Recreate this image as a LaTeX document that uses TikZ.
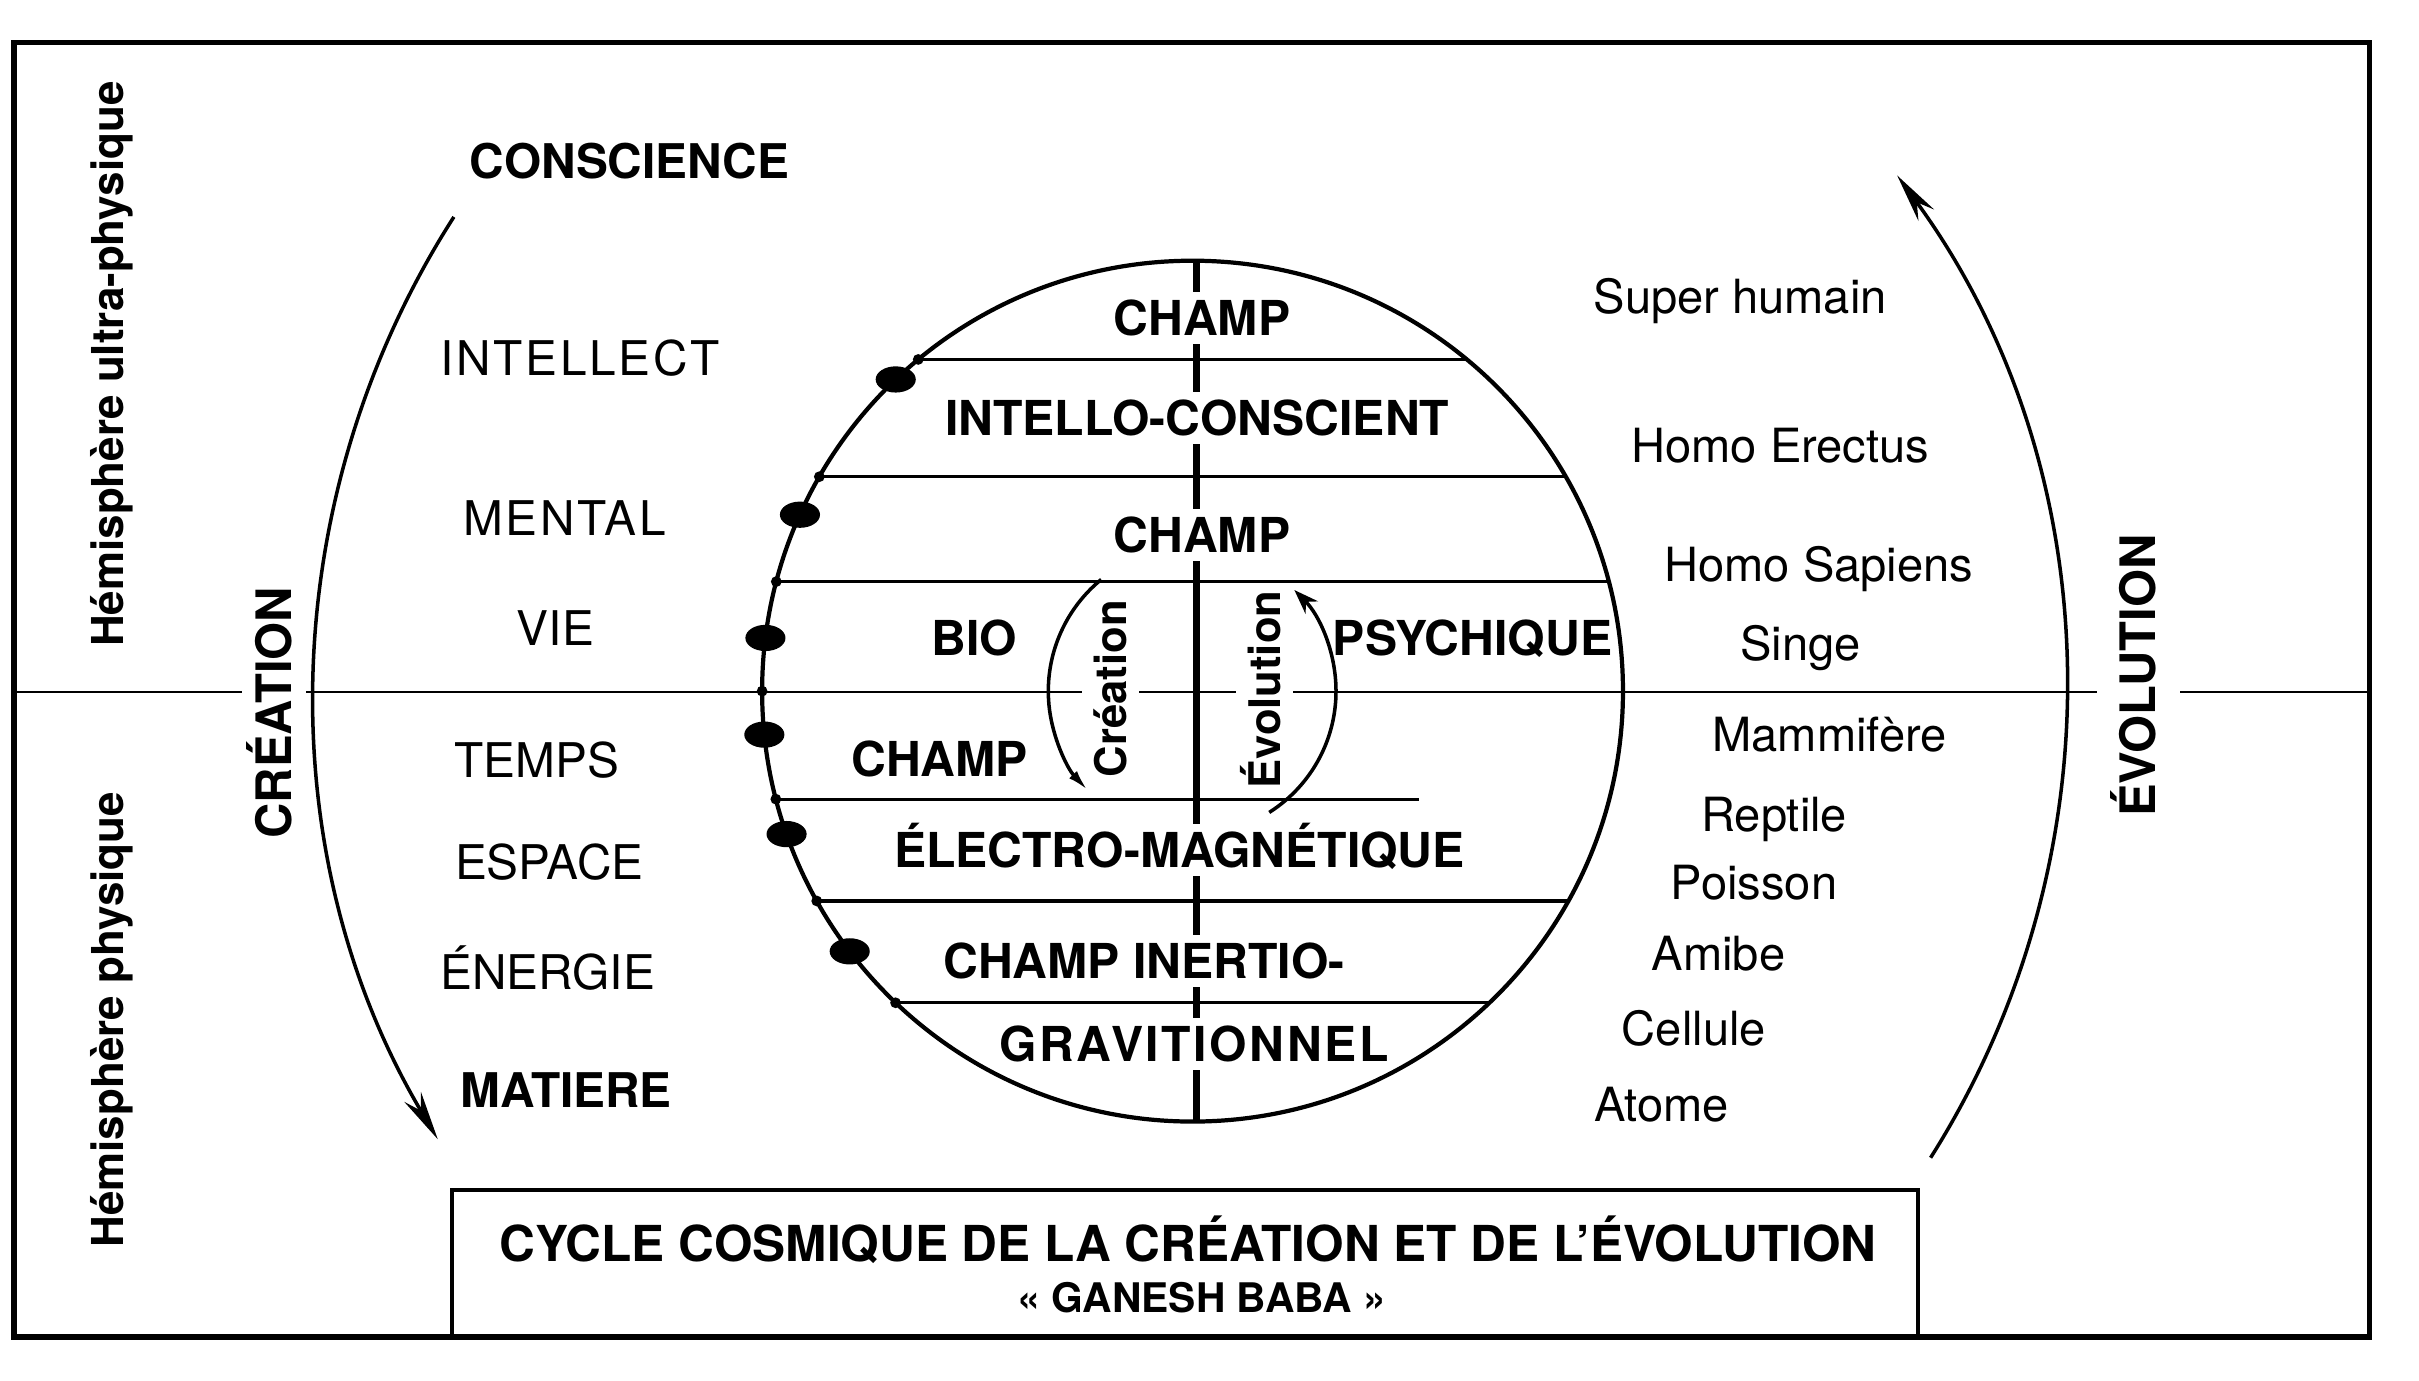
\documentclass[tikz,border=0pt]{standalone}
\usepackage{fontspec}
\setmainfont{TeX Gyre Heros}
\newfontfamily\spacedfont{TeX Gyre Heros}[LetterSpace=5.5]
\usetikzlibrary{calc, arrows.meta}

\newcommand{\bandfont}{\fontsize{13.7pt}{15pt}\selectfont\bfseries}
\newcommand{\listfont}{\fontsize{13.6pt}{15pt}\selectfont}
\newcommand{\beingfont}{\fontsize{13.4pt}{15pt}\selectfont}
\newcommand{\hemifont}{\fontsize{12.5pt}{14pt}\selectfont\bfseries}
\newcommand{\sensfont}{\fontsize{13.9pt}{15pt}\selectfont\bfseries}
\newcommand{\subsensfont}{\fontsize{12.4pt}{14pt}\selectfont\bfseries}

\begin{document}
\begin{tikzpicture}[x=0.015427cm, y=-0.015427cm,
    band/.style={font=\bandfont, fill=white, inner xsep=2pt, inner ysep=2.5pt, text height=9.8pt, text depth=0pt},
    level/.style={font=\listfont, inner sep=0pt, text height=9.8pt, text depth=0pt},
    levelbold/.style={level, font=\listfont\bfseries},
    being/.style={font=\beingfont, inner sep=0pt, text height=9.6pt, text depth=0pt},
    hemi/.style={rotate=90, font=\hemifont, inner sep=0pt, text height=9pt, text depth=0pt},
    sens/.style={rotate=90, font=\sensfont, fill=white, inner xsep=1pt, text height=10pt, text depth=0pt},
    subsens/.style={rotate=90, font=\subsensfont, fill=white, inner xsep=1pt, inner ysep=3.6pt, text height=8.9pt, text depth=0pt},
    titletext/.style={font=\fontsize{14.1pt}{15pt}\selectfont\bfseries, inner sep=0pt, text height=10.1pt, text depth=0pt},
    subtitle/.style={font=\fontsize{11.6pt}{13pt}\selectfont\bfseries, inner sep=0pt, text height=8.3pt, text depth=0pt},
    frame/.style={line width=1.6pt},
    chord/.style={line width=0.9pt},
    axis/.style={line width=2pt},
    ring/.style={line width=1.2pt},
    bigarrow/.style={line width=1pt, -{Stealth[length=14pt, width=5.5pt]}},
    crearrow/.style={line width=1pt, -{Latex[length=6pt, width=3pt]}},
    evoarrow/.style={line width=1pt, -{Stealth[length=7pt, width=5pt]}}]
  \useasboundingbox (0,0) rectangle (1568,895);
  \coordinate (c) at (773,448);

  % cadre et titre
  \draw[frame] (9,27.5) rectangle (1536,866.5);
  \draw[line width=1.1pt] (293,771.5) rectangle (1243,866.5);

  % lignes
  \draw[line width=0.8pt] (9,448.5) -- (1536,448.5);
  \foreach \yy/\hw in {233/177.8, 309/241.9, 377/269.8, 584/243.6, 650/192.5}
    \draw[chord] (773-\hw,\yy) -- (773+\hw,\yy);
  \draw[chord] (502.9,518) -- (920,518);
  \draw[axis] (775.5,168) -- (775.5,726);

  % gauche
  \node[levelbold] (conscience) at (408,104.5) {CONSCIENCE};
  \node[level] (intellect) at (376,232) {\spacedfont INTELLECT};
  \node[level] (mental) at (366,336) {\spacedfont MENTAL};
  \node[level] (vie) at (360,407) {VIE};
  \node[level] (temps) at (348,493) {TEMPS};
  \node[level] (espace) at (356,559) {ESPACE};
  \node[level] (energie) at (355,630) {ÉNERGIE};
  \node[levelbold] (matiere) at (367,707) {MATIERE};

  % droite
  \node[being] (surhumain) at (1128,192) {Super humain};
  \node[being] (erectus) at (1154,289) {Homo Erectus};
  \node[being] (sapiens) at (1179,366) {Homo Sapiens};
  \node[being] (singe) at (1167,417) {Singe};
  \node[being] (mammifere) at (1186,476) {Mammifère};
  \node[being] (reptile) at (1150,528) {Reptile};
  \node[being] (poisson) at (1137,572) {Poisson};
  \node[being] (amibe) at (1114,618) {Amibe};
  \node[being] (cellule) at (1098,667) {Cellule};
  \node[being] (atome) at (1077,716) {Atome};

  % champs
  \node[band] (champA) at (779,206) {CHAMP};
  \node[band] (intello) at (776,271) {INTELLO-CONSCIENT};
  \node[band] (champB) at (779,347) {CHAMP};
  \node[band] (bio) at (631.5,414) {BIO};
  \node[band] (psychique) at (954.5,414) {PSYCHIQUE};
  \node[band] (champC) at (609,492) {CHAMP};
  \node[band] (electro) at (764.5,551) {ÉLECTRO-MAGNÉTIQUE};
  \node[band] (inertio) at (741.5,623) {CHAMP INERTIO-};
  \node[band] (gravit) at (774,677) {\spacedfont\bfseries GRAVITIONNEL};

  % textes verticaux
  \node[hemi] (ultra) at (70,236) {Hémisphère ultra-physique};
  \node[hemi] (physique) at (70,661) {Hémisphère physique};
  \node[sens, inner ysep=4.2pt] (creation) at (177.5,462) {CRÉATION};
  \node[sens, inner ysep=6.8pt] (evolution) at (1386,438) {ÉVOLUTION};
  \node[subsens] (creasub) at (720,446.5) {Création};
  \node[subsens] (evosub) at (819.6,447) {Évolution};

  \node[titletext] (titre) at (770,806) {CYCLE COSMIQUE DE LA CRÉATION ET DE L’ÉVOLUTION};
  \node[subtitle] (ganesh) at (779,841) {« GANESH BABA »};

  % cercle
  \draw[ring] (c) circle[radius=279];
  \foreach \yy/\hw in {233/177.8, 309/241.9, 377/269.8, 448/279, 518/270.1, 584/243.6, 650/192.5}
    \fill (773-\hw,\yy) circle[radius=3.5];
  \foreach \a in {226.4, 204.2, 187.1, 174.2, 160.6, 142.8}
    \fill ($(c)+(\a:279)$) ellipse[x radius=13, y radius=8.5];

  % fleches
  \draw[bigarrow] ($(c)+(212.7:569)$) arc[start angle=212.7, end angle=149.3, radius=569];
  \draw[bigarrow] ($(c)+(32.3:566)$) arc[start angle=32.3, end angle=-36.2, radius=566];
  \draw[crearrow] ($(c)+(230.7:93.5)$) arc[start angle=230.7, end angle=136.7, radius=93.5];
  \draw[evoarrow] ($(c)+(57.7:93)$) arc[start angle=57.7, end angle=-44.8, radius=93];
\end{tikzpicture}
\end{document}
